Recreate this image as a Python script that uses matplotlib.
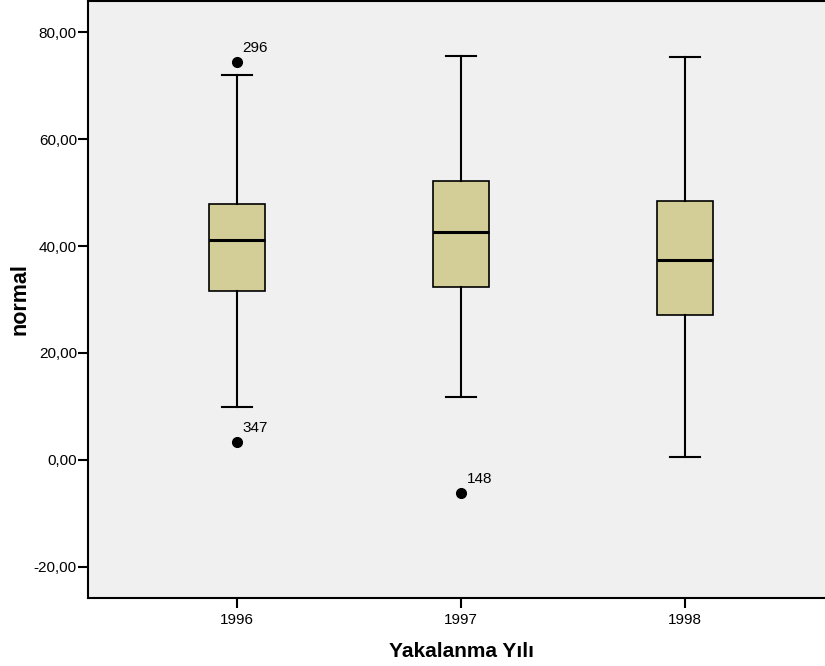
import matplotlib.pyplot as plt
from matplotlib.ticker import FuncFormatter

plt.rcParams['font.family'] = ['Liberation Sans', 'DejaVu Sans']

# box statistics
years = ['1996', '1997', '1998']
q1 = [31.6, 32.3, 27.1]
medians = [41.1, 42.6, 37.4]
q3 = [47.9, 52.1, 48.4]
whisker_low = [9.9, 11.8, 0.6]
whisker_high = [72.0, 75.5, 75.3]

# outliers: (group index, value, case label)
outlier_group = [0, 0, 1]
outlier_value = [74.4, 3.3, -6.1]
outlier_label = ['296', '347', '148']

stats = []
for i, y in enumerate(years):
    stats.append({'label': y, 'q1': q1[i], 'med': medians[i], 'q3': q3[i],
                  'whislo': whisker_low[i], 'whishi': whisker_high[i],
                  'fliers': [v for g, v in zip(outlier_group, outlier_value) if g == i]})

fig = plt.figure(figsize=(8.25, 6.66), dpi=100)
ax = fig.add_axes([88/825, 68/666, 746/825, 597/666])
ax.set_facecolor('#f0f0f0')

ax.bxp(stats, positions=[1, 2, 3], widths=0.25, patch_artist=True,
       boxprops=dict(facecolor='#d3ce98', edgecolor='black', linewidth=1.2),
       medianprops=dict(color='black', linewidth=2.2),
       whiskerprops=dict(color='black', linewidth=1.5),
       capprops=dict(color='black', linewidth=1.5),
       capwidths=0.13,
       flierprops=dict(marker='o', markerfacecolor='black', markeredgecolor='black',
                       markersize=7))

for g, v, lab in zip(outlier_group, outlier_value, outlier_label):
    ax.annotate(lab, (g + 1, v), xytext=(4, 5), textcoords='offset points',
                fontsize=11, ha='left', va='bottom')

ax.set_xlim(0.335, 3.665)
ax.set_ylim(-25.8, 85.8)
ax.set_yticks([-20, 0, 20, 40, 60, 80])
ax.yaxis.set_major_formatter(FuncFormatter(lambda v, p: f'{v:.2f}'.replace('.', ',')))
ax.tick_params(axis='both', direction='out', length=7, width=1.5, labelsize=11)
ax.tick_params(axis='y', pad=1)
for s in ax.spines.values():
    s.set_linewidth(1.5)

ax.set_xlabel('Yakalanma Yılı', fontsize=15, fontweight='bold', labelpad=11)
ax.set_ylabel('normal', fontsize=15.5, fontweight='bold', labelpad=2)

plt.savefig('out.png', dpi=100)
